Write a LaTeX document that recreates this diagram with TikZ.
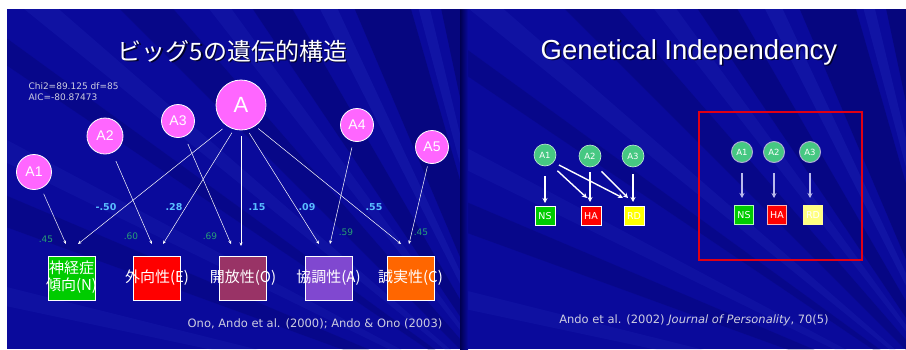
\documentclass[tikz,border=0pt]{standalone}
\usepackage{fontspec}
\usetikzlibrary{arrows.meta}
\newfontfamily\jpf{Noto Sans CJK JP}
\newfontfamily\libf{Liberation Sans}
\newfontfamily\dvf{DejaVu Sans}
\definecolor{slideblue}{RGB}{10,10,155}
\definecolor{navy}{RGB}{0,0,80}
\definecolor{raylight}{RGB}{60,80,220}
\definecolor{pinkc}{RGB}{255,102,255}
\definecolor{coefblue}{RGB}{90,190,255}
\definecolor{coefgreen}{RGB}{40,160,120}
\definecolor{bN}{RGB}{0,204,0}
\definecolor{bE}{RGB}{255,0,0}
\definecolor{bO}{RGB}{153,51,102}
\definecolor{bA}{RGB}{128,72,208}
\definecolor{bC}{RGB}{255,102,0}
\definecolor{gcol}{RGB}{70,200,130}
\definecolor{ylw}{RGB}{255,255,0}
\definecolor{ylwl}{RGB}{255,255,128}
\definecolor{redframe}{RGB}{225,0,20}
\definecolor{citegray}{RGB}{205,205,225}
\definecolor{lav}{RGB}{185,185,235}
\newcommand\slidebg[4]{%
  \begin{scope}
    \clip (#1,#2) rectangle ++(#3,#4);
    \fill[slideblue] (#1,#2) rectangle ++(#3,#4);
    \path (#1,#2) ++(1.15*#3,1.2*#4) coordinate (F);
    \foreach \a/\b/\c/\o in {258/262/navy/.4, 247/254/navy/.35, 236/240/navy/.3,
        225/229/navy/.25, 214/216/navy/.22, 200/203/navy/.22,
        255/256.5/raylight/.15, 243/245/raylight/.15, 232/234/raylight/.12,
        219/221/raylight/.12, 206/208/raylight/.1, 192/194/raylight/.1}
      \fill[\c,opacity=\o] (F) -- ++(\a:1500) -- ([shift={(\b:1500)}]F) -- cycle;
  \end{scope}}
\begin{document}
\begin{tikzpicture}[x=1pt,y=-1pt,
  pc/.style={circle,fill=pinkc,draw=white,line width=0.8pt,text=white,
    font=\libf\fontsize{14}{14}\selectfont,inner sep=0pt,minimum size=34pt},
  bigpc/.style={pc,minimum size=50pt,font=\libf\fontsize{22}{22}\selectfont},
  trait/.style={rectangle,draw=white,line width=0.8pt,minimum width=47pt,
    minimum height=44pt,inner sep=0pt,text=white,font=\jpf\fontsize{15}{15.5}\selectfont},
  arr/.style={white,line width=0.5pt,-{Stealth[length=3.5pt,width=3pt]}},
  coef/.style={text=coefblue,font=\dvf\bfseries\fontsize{9.5}{9.5}\selectfont},
  load/.style={text=coefgreen,font=\dvf\fontsize{9}{9}\selectfont},
  gcirc/.style={circle,fill=gcol,draw=white!70!gcol,line width=0.6pt,minimum size=22pt,
    inner sep=0pt,text=white,font=\dvf\fontsize{8.5}{8.5}\selectfont},
  gcirc2/.style={gcirc,minimum size=21pt,draw=lav!80!gray,line width=1pt},
  gbox/.style={rectangle,draw=white,line width=1pt,minimum width=20pt,minimum height=19pt,
    inner sep=0pt,text=white,font=\dvf\fontsize{9.5}{9.5}\selectfont},
  warr/.style={white,line width=1.4pt,-{Stealth[length=5pt,width=5pt]}},
  larr/.style={lav,line width=1.6pt,-{Stealth[length=5pt,width=5pt]}},
  cite/.style={text=citegray,font=\dvf\fontsize{11.5}{11.5}\selectfont},
  stats/.style={text=citegray,font=\dvf\fontsize{9}{11}\selectfont,align=left,anchor=west}
]
\useasboundingbox (0,0) rectangle (906,349);
\fill[white] (0,0) rectangle (906,349);
\slidebg{7}{9}{453}{340}
\slidebg{460}{9}{446}{340}
\shade[left color=navy,right color=slideblue] (460,9) rectangle (468,349);

% ---------- left slide ----------
\node[font=\jpf\fontsize{24}{24}\selectfont,text=black,opacity=.7] (tLs) at (234,52.5) {ビッグ5の遺伝的構造};
\node[font=\jpf\fontsize{24}{24}\selectfont,text=white] (tL) at (232.5,51) {ビッグ5の遺伝的構造};
\node[stats] (stat) at (25,91.5) {Chi2=89.125 df=85\\AIC=-80.87473};

\node[bigpc] (A) at (241,105) {A};
\node[pc,minimum size=35pt] (A1) at (34,172) {A1};
\node[pc,minimum size=36pt] (A2) at (105,136) {A2};
\node[pc,minimum size=33pt] (A3) at (178,121) {A3};
\node[pc,minimum size=33pt] (A4) at (357,125) {A4};
\node[pc,minimum size=33pt] (A5) at (432,147) {A5};

\node[trait,fill=bN] (N) at (71.5,278) {\makebox[0pt]{\begin{tabular}{@{}c@{}}神経症\\傾向(N)\end{tabular}}};
\node[trait,fill=bE] (E) at (157,278) {\makebox[0pt]{外向性(E)}};
\node[trait,fill=bO] (O) at (243,278) {\makebox[0pt]{開放性(O)}};
\node[trait,fill=bA] (Ag) at (328.5,278) {\makebox[0pt]{協調性(A)}};
\node[trait,fill=bC] (C) at (410.5,278) {\makebox[0pt]{誠実性(C)}};

\coordinate (nN1) at (66,244);
\coordinate (nN2) at (78,244);
\coordinate (nE1) at (152,244);
\coordinate (nE2) at (163,244);
\coordinate (nO1) at (231,244);
\coordinate (nO2) at (241,246);
\coordinate (nA1) at (319,244);
\coordinate (nA2) at (330,244);
\coordinate (nC1) at (401,244);
\coordinate (nC2) at (409,244);

\draw[arr,shorten <=6pt] (A1) -- (nN1);
\draw[arr,shorten <=5pt] (A.235) -- (nN2);
\draw[arr,shorten <=9pt] (A2) -- (nE1);
\draw[arr,shorten <=4pt] (A.254) -- (nE2);
\draw[arr,shorten <=8pt] (A3) -- (nO1);
\draw[arr,shorten <=6pt] (A.270) -- (nO2);
\draw[arr,shorten <=4pt] (A.284) -- (nA1);
\draw[arr,shorten <=6pt] (A4) -- (nA2);
\draw[arr,shorten <=4pt] (A.304) -- (nC1);
\draw[arr,shorten <=3pt] (A5) -- (nC2);

\node[coef] (c1) at (106,207) {-.50};
\node[coef] (c2) at (174,207) {.28};
\node[coef] (c3) at (257,207) {.15};
\node[coef] (c4) at (307,207) {.09};
\node[coef] (c5) at (374,207) {.55};
\node[load] (l1) at (46,239) {.45};
\node[load] (l2) at (131,236) {.60};
\node[load] (l3) at (210,236) {.69};
\node[load] (l4) at (346,232) {.59};
\node[load] (l5) at (421,232) {.45};

\node[cite] (citeL) at (315,324) {Ono, Ando et al. (2000); Ando \& Ono (2003)};

% ---------- right slide ----------
\node[font=\libf\fontsize{27.5}{27.5}\selectfont,text=black,opacity=.7] (tRs) at (690.5,53.5) {Genetical Independency};
\node[font=\libf\fontsize{27.5}{27.5}\selectfont,text=white] (tR) at (689,52) {Genetical Independency};

\node[gcirc] (g1) at (545,155) {A1};
\node[gcirc] (g2) at (590,156) {A2};
\node[gcirc] (g3) at (633,156) {A3};
\node[gbox,fill=bN] (ns1) at (545,216) {NS};
\node[gbox,fill=bE] (ha1) at (591,216) {HA};
\node[gbox,fill=ylw] (rd1) at (634,216) {RD};

\coordinate (e11) at (545,203);
\coordinate (e12) at (587,198);
\coordinate (e13) at (623,198);
\coordinate (e22) at (590,202);
\coordinate (e23) at (628,198);
\coordinate (e33) at (633,202);
\draw[warr,shorten <=10pt] (g1) -- (e11);
\draw[warr,shorten <=9pt] (g1.-59) -- (e12);
\draw[warr,shorten <=6pt] (g1.-40) -- (e13);
\draw[warr,shorten <=5pt] (g2) -- (e22);
\draw[warr,shorten <=8pt] (g2.-59) -- (e23);
\draw[warr,shorten <=7pt] (g3) -- (e33);

\node[draw=redframe,line width=2.2pt,minimum width=163pt,minimum height=148pt,inner sep=0pt] (frame) at (780.5,186) {};
\node[gcirc2] (h1) at (742,152) {A1};
\node[gcirc2] (h2) at (774,152) {A2};
\node[gcirc2] (h3) at (810,152) {A3};
\node[gbox,fill=bN,draw=green!30!white,minimum width=19pt] (ns2) at (744,215) {NS};
\node[gbox,fill=bE,draw=red!30!white,minimum width=19pt] (ha2) at (777,215) {HA};
\node[gbox,fill=ylwl,draw=yellow!40!white,minimum width=19pt] (rd2) at (813,215) {RD};
\coordinate (f1) at (742,198);
\coordinate (f2) at (774,198);
\coordinate (f3) at (810,198);
\draw[larr,shorten <=10pt] (h1) -- (f1);
\draw[larr,shorten <=10pt] (h2) -- (f2);
\draw[larr,shorten <=10pt] (h3) -- (f3);

\node[cite] (citeR) at (694,320) {Ando et al. (2002) \textit{Journal of Personality}, 70(5)};
\end{tikzpicture}
\end{document}
